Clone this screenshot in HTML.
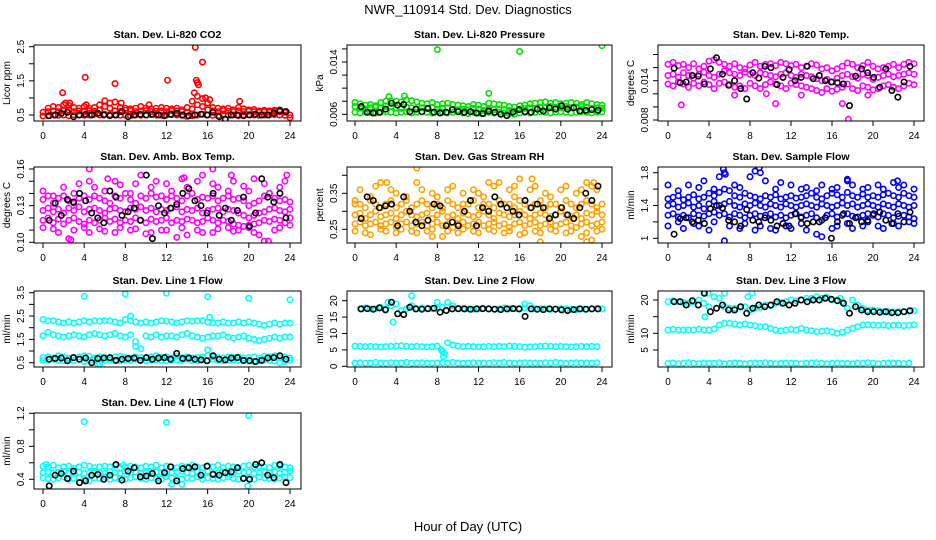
<!DOCTYPE html>
<html><head><meta charset="utf-8"><style>
html,body{margin:0;padding:0;background:#fff;}
svg{display:block;font-family:"Liberation Sans",Arial,sans-serif;}
</style></head><body>
<svg id="chart" width="936" height="540" viewBox="0 0 936 540" xmlns="http://www.w3.org/2000/svg">
<text x="468" y="14" font-size="13" text-anchor="middle">NWR_110914  Std. Dev. Diagnostics</text>
<text x="468" y="531" font-size="13" text-anchor="middle">Hour of Day (UTC)</text>
</svg>
<script>
// ---------- DATA ----------
const xTicks = [0,4,8,12,16,20,24];
const co2Lo = [0.47,0.48,0.5,0.49,0.5,0.48,0.51,0.5,0.49,0.5,0.52,0.5,0.52,0.51,0.5,0.49,0.5,0.48,0.5,0.49,0.5,0.51,0.5,0.49,0.5,0.51,0.5,0.49,0.46,0.48,0.5,0.52,0.5,0.49,0.48,0.5,0.49,0.5,0.48,0.5,0.51,0.5,0.49,0.5,0.5,0.51,0.5,0.49,0.42];
const co2Mid = [0.58,0.6,0.62,0.6,0.63,0.65,0.6,0.62,0.6,0.63,0.61,0.64,0.75,0.7,0.62,0.6,0.64,0.63,0.6,0.62,0.63,0.6,0.61,0.62,0.6,0.63,0.62,0.6,0.58,0.68,0.8,0.75,0.65,0.62,0.6,0.63,0.61,0.6,0.62,0.6,0.61,0.6,0.58,0.6,0.58,0.6,0.6,0.58,0.5];
const co2Hi = [null,0.7,0.75,0.72,0.8,0.78,0.72,0.7,0.75,0.7,0.72,0.8,0.92,0.85,0.88,0.72,0.7,0.68,0.7,0.75,0.7,0.68,0.7,0.72,0.7,0.68,0.7,0.65,0.72,0.9,1.05,0.98,0.85,0.72,0.7,0.68,0.7,0.65,0.72,0.68,0.65,0.66,0.62,0.64,0.62,0.64,0.65,0.6,null];
const co2OutH = [1.9,2.2,2.6,4.1,7.0,12.1,14.8,15.5,14.9,15.0,15.1,14.7,19.1,10.3,7.6,4.2,16.2,15.8];
const co2OutV = [1.15,0.85,0.85,1.6,1.42,1.52,2.48,2.05,1.52,1.45,1.38,1.15,0.9,0.8,0.85,0.8,0.95,1.0];
const co2Black = [0.48,0.5,0.55,0.58,0.45,0.5,0.52,0.5,0.55,0.5,0.48,0.5,0.6,0.45,0.5,0.52,0.5,0.52,0.5,0.48,0.52,0.55,0.5,0.48,0.5,0.52,0.5,0.58,0.45,0.38,0.5,0.5,0.48,0.5,0.52,0.5,0.5,0.55,0.62,0.6];

const kpaLo = [0.0063,0.0062,0.0064,0.0063,0.0062,0.0063,0.0064,0.0063,0.0062,0.0063,0.0064,0.0062,0.0063,0.0064,0.0063,0.0062,0.0064,0.0063,0.0062,0.0063,0.0064,0.0062,0.0061,0.0063,0.0062,0.0061,0.0063,0.0062,0.0063,0.0062,0.0061,0.006,0.0062,0.0063,0.0062,0.0063,0.0064,0.0063,0.0062,0.0063,0.0064,0.0063,0.0062,0.0063,0.0064,0.0063,0.0062,0.0063,0.0064];
const kpaMid = [0.0072,0.007,0.0068,0.007,0.0071,0.0069,0.0073,0.0072,0.007,0.0069,0.0071,0.007,0.0068,0.007,0.0069,0.0071,0.0068,0.0069,0.007,0.0068,0.0067,0.0068,0.0067,0.0069,0.0068,0.0066,0.0068,0.0067,0.0068,0.0067,0.0066,0.0065,0.0068,0.0069,0.007,0.0069,0.0071,0.007,0.0072,0.0071,0.007,0.0072,0.007,0.0071,0.0072,0.0071,0.0069,0.007,0.0069];
const kpaHi = [0.0078,0.0076,0.0074,0.0075,0.0073,0.0078,0.008,0.0081,0.008,0.0079,0.0082,0.0081,0.0079,0.0077,0.0076,0.0078,0.0075,0.0076,0.0077,0.0075,0.0074,0.0073,0.0072,0.0075,0.0074,0.0072,0.0077,0.0076,0.0075,0.0074,0.0072,0.0071,0.0073,0.0074,0.0076,0.0077,0.0078,0.0079,0.0077,0.0078,0.0076,0.0077,0.0078,0.0077,0.0075,0.0078,0.0076,0.0075,0.0074];
const kpaOutH = [8,16,24,13,3.3,4.8];
const kpaOutV = [0.0159,0.0156,0.0165,0.0092,0.0087,0.0088];
const kpaBlack = [0.0072,0.0063,0.0062,0.0063,0.0068,0.0077,0.0074,0.0075,0.0064,0.0068,0.0064,0.0069,0.0063,0.0062,0.0063,0.0067,0.0064,0.0063,0.0064,0.0062,0.0061,0.0065,0.0063,0.006,0.0058,0.0063,0.0067,0.0064,0.0063,0.0068,0.0065,0.007,0.0068,0.0073,0.0068,0.007,0.0065,0.0066,0.0067,0.0066];

const ltHi = [0.0165,0.0168,0.0163,0.0165,0.016,0.0166,0.0158,0.0162,0.017,0.0172,0.0168,0.0165,0.0162,0.0166,0.016,0.0158,0.0164,0.0168,0.0162,0.0165,0.0166,0.0163,0.0168,0.0166,0.0163,0.0165,0.016,0.0162,0.0166,0.0164,0.0158,0.016,0.0155,0.0158,0.0162,0.0167,0.0165,0.016,0.0163,0.0168,0.0162,0.0158,0.016,0.0162,0.0165,0.016,0.0165,0.0168,0.0166];
const ltMid = [0.0148,0.015,0.0145,0.0152,0.0148,0.0144,0.015,0.0153,0.0148,0.0145,0.015,0.0155,0.0152,0.015,0.0148,0.0153,0.015,0.0148,0.0152,0.015,0.0148,0.0146,0.015,0.0152,0.0148,0.0145,0.015,0.0148,0.0146,0.0143,0.014,0.0142,0.0138,0.0144,0.0148,0.015,0.0146,0.0144,0.015,0.0148,0.0142,0.0145,0.0148,0.015,0.0146,0.0148,0.015,0.0152,0.015];
const ltLo = [0.0135,0.0132,0.0138,0.0135,0.013,0.0136,0.0132,0.0138,0.0134,0.0128,0.0136,0.0138,0.0134,0.013,0.0132,0.0128,0.0136,0.0132,0.0128,0.0134,0.0138,0.0135,0.0132,0.0128,0.0136,0.0134,0.0132,0.013,0.0128,0.0125,0.0122,0.0128,0.0124,0.0127,0.013,0.0135,0.0128,0.0125,0.0132,0.013,0.0126,0.0128,0.0132,0.0134,0.013,0.0128,0.0132,0.0136,0.0134];
const ltOutH = [1.3,10.5,17.6,17,9.6,6.5,13,19.5];
const ltOutV = [0.0103,0.0105,0.0081,0.0105,0.012,0.0118,0.0118,0.0118];
const ltBlack = [0.0159,0.0137,0.0138,0.0148,0.0147,0.0135,0.0158,0.0175,0.015,0.0133,0.014,0.0128,0.0112,0.0152,0.0144,0.0162,0.016,0.0134,0.0145,0.0157,0.014,0.0145,0.0162,0.0143,0.0148,0.014,0.0138,0.0137,0.0135,0.0102,0.0147,0.0158,0.0152,0.0145,0.013,0.0158,0.0125,0.0115,0.0138,0.0162];

const ambHi2 = [0.142,null,0.138,null,0.145,null,0.14,0.148,null,0.15,0.145,null,0.142,null,0.15,0.147,null,0.14,0.148,0.155,null,0.145,0.15,null,0.148,0.142,null,0.152,0.145,null,0.15,0.155,null,0.148,0.145,null,0.142,0.15,null,0.146,0.142,0.152,null,0.148,0.14,null,0.145,0.15,null];
const ambHi = [0.135,0.138,0.132,0.136,0.138,0.134,0.132,0.136,0.138,0.135,0.138,0.136,0.134,0.132,0.138,0.136,0.14,0.135,0.132,0.138,0.136,0.14,0.137,0.138,0.135,0.138,0.136,0.134,0.138,0.14,0.135,0.137,0.136,0.138,0.134,0.136,0.138,0.135,0.136,0.134,0.13,0.132,0.134,0.138,0.14,0.136,0.134,0.135,0.133];
const ambMid = [0.126,0.128,0.125,0.127,0.124,0.128,0.126,0.129,0.125,0.127,0.128,0.126,0.124,0.127,0.128,0.126,0.125,0.128,0.127,0.129,0.126,0.128,0.125,0.127,0.126,0.128,0.129,0.125,0.127,0.126,0.128,0.124,0.126,0.127,0.128,0.125,0.127,0.126,0.124,0.122,0.12,0.122,0.124,0.125,0.127,0.128,0.126,0.125,0.127];
const ambLo = [0.118,0.12,0.116,0.119,0.115,0.118,0.12,0.117,0.115,0.118,0.116,0.118,0.12,0.117,0.119,0.116,0.118,0.117,0.12,0.118,0.116,0.119,0.117,0.118,0.12,0.116,0.118,0.117,0.119,0.118,0.116,0.117,0.12,0.118,0.116,0.118,0.117,0.115,0.114,0.113,0.112,0.115,0.116,0.118,0.117,0.119,0.118,0.116,0.12];
const ambLo2 = [0.112,null,0.111,0.108,null,0.103,0.11,null,0.112,0.108,null,0.111,0.109,null,0.108,0.112,null,0.11,0.111,null,0.107,0.108,null,0.11,0.11,null,0.104,0.112,0.106,null,0.11,0.108,null,0.108,0.111,null,0.112,0.109,0.11,null,0.114,0.108,0.106,0.101,null,0.11,0.112,null,0.114];
const ambOutH = [4.5,16.5,13.7,23.7,2.7,21.9,6.3,18.3];
const ambOutV = [0.16,0.16,0.153,0.155,0.102,0.101,0.152,0.155];
const ambBlack = [0.118,0.132,0.122,0.135,0.133,0.14,0.134,0.124,0.12,0.116,0.142,0.137,0.122,0.125,0.128,0.118,0.155,0.103,0.13,0.124,0.128,0.131,0.14,0.144,0.134,0.13,0.124,0.14,0.122,0.128,0.118,0.126,0.137,0.113,0.124,0.152,0.137,0.133,0.14,0.12];

const rhHi2 = [0.33,0.36,null,0.34,0.37,0.38,null,0.36,0.35,null,0.34,null,0.38,0.36,null,0.35,0.34,null,0.36,0.37,null,0.35,null,0.36,0.35,0.34,null,0.37,0.38,null,0.36,0.34,0.39,null,0.36,0.37,null,0.35,0.34,null,0.36,0.37,null,0.35,0.36,0.38,0.37,0.36,null];
const rhHi = [0.32,0.32,0.31,0.33,0.32,0.31,0.32,0.33,0.31,0.32,0.33,0.31,0.32,0.33,0.32,0.31,0.32,0.31,0.33,0.32,0.31,0.32,0.32,0.33,0.31,0.32,0.32,0.31,0.33,0.32,0.32,0.31,0.33,0.32,0.31,0.32,0.33,0.31,0.32,0.32,0.31,0.33,0.32,0.31,0.32,0.33,0.32,0.31,0.32];
const rhMid = [0.29,0.295,0.28,0.29,0.3,0.285,0.29,0.295,0.28,0.29,0.3,0.29,0.285,0.29,0.295,0.28,0.29,0.3,0.285,0.29,0.28,0.295,0.29,0.285,0.29,0.3,0.29,0.28,0.295,0.29,0.285,0.29,0.3,0.29,0.28,0.29,0.295,0.29,0.285,0.29,0.3,0.29,0.285,0.29,0.28,0.295,0.29,0.3,0.29];
const rhLo = [0.265,0.27,0.26,0.265,0.27,0.26,0.265,0.27,0.255,0.265,0.27,0.26,0.265,0.27,0.26,0.265,0.27,0.26,0.265,0.255,0.265,0.27,0.26,0.265,0.27,0.26,0.265,0.27,0.26,0.265,0.255,0.265,0.27,0.26,0.265,0.27,0.26,0.265,0.27,0.26,0.265,0.27,0.26,0.255,0.265,0.27,0.26,0.265,0.27];
const rhLo2 = [0.245,null,0.24,0.235,null,0.25,0.245,null,0.24,0.25,null,0.245,0.24,null,0.245,0.25,null,0.23,0.245,null,0.24,0.25,null,0.245,0.24,null,0.25,0.245,null,0.24,0.245,null,0.235,0.24,null,0.245,0.24,null,0.25,0.245,null,0.24,0.245,null,0.23,0.24,null,0.245,0.25];
const rhOutH = [6,17.2,13,22.5,23,18,7.5,3.1,15.5,23.2];
const rhOutV = [0.42,0.39,0.38,0.215,0.22,0.215,0.23,0.38,0.37,0.38];
const rhBlack = [0.28,0.34,0.33,0.31,0.315,0.32,0.26,0.34,0.3,0.27,0.26,0.275,0.32,0.315,0.26,0.27,0.26,0.3,0.33,0.26,0.31,0.3,0.34,0.32,0.31,0.3,0.29,0.33,0.31,0.32,0.31,0.28,0.29,0.31,0.29,0.28,0.31,0.35,0.33,0.37];

const sfHi2 = [1.65,null,1.58,null,1.65,null,1.62,1.7,null,1.6,1.75,1.8,null,1.65,1.62,null,1.75,1.82,null,1.7,null,1.6,1.68,null,1.65,null,1.6,1.62,null,1.58,1.65,null,1.6,1.62,null,1.7,1.65,null,1.6,1.62,null,1.65,1.6,null,1.68,1.62,1.65,null,1.6];
const sfHi = [1.48,1.5,1.52,1.47,1.5,1.53,1.48,1.5,1.55,1.52,1.56,1.6,1.58,1.52,1.5,1.55,1.52,1.5,1.48,1.52,1.5,1.53,1.48,1.5,1.52,1.49,1.5,1.52,1.55,1.5,1.48,1.52,1.55,1.53,1.5,1.56,1.52,1.5,1.54,1.5,1.52,1.5,1.53,1.55,1.52,1.5,1.55,1.52,1.5];
const sfMid = [1.4,1.42,1.38,1.4,1.43,1.38,1.4,1.36,1.42,1.45,1.4,1.42,1.45,1.4,1.38,1.42,1.4,1.43,1.4,1.38,1.42,1.4,1.38,1.42,1.4,1.38,1.4,1.42,1.4,1.38,1.42,1.4,1.38,1.4,1.43,1.4,1.42,1.38,1.4,1.42,1.4,1.38,1.42,1.4,1.38,1.42,1.4,1.38,1.4];
const sfLo = [1.28,1.3,1.26,1.28,1.25,1.3,1.28,1.27,1.3,1.32,1.28,1.3,1.26,1.3,1.28,1.25,1.28,1.3,1.27,1.28,1.3,1.26,1.28,1.25,1.28,1.3,1.26,1.28,1.3,1.25,1.22,1.28,1.3,1.26,1.28,1.3,1.27,1.26,1.28,1.3,1.28,1.26,1.3,1.28,1.25,1.27,1.28,1.26,1.24];
const sfLo2 = [1.15,null,1.2,1.12,null,1.18,1.15,null,1.1,1.2,null,0.97,1.15,null,1.12,1.18,null,1.1,1.15,null,1.12,1.1,null,1.15,1.12,null,1.18,1.1,null,1.05,1.02,null,1.12,1.15,null,1.18,1.12,null,1.15,1.2,null,1.15,1.12,null,1.18,1.15,null,1.2,1.18];
const sfOutH = [5.4,5.6,8.9,9.0,17.5,22.4];
const sfOutV = [1.84,1.78,1.86,1.8,1.72,1.7];
const sfBlack = [1.05,1.24,1.25,1.2,1.22,1.18,1.36,1.4,1.37,1.22,1.2,1.15,1.35,1.22,1.2,1.25,1.22,1.15,1.18,1.15,1.3,1.25,1.18,1.2,1.2,1.25,1.0,1.2,1.3,1.18,1.25,1.2,1.22,1.3,1.32,1.22,1.18,1.3,1.2,1.32];

const l1B1 = [2.35,2.3,2.3,2.25,2.2,2.25,2.2,2.25,2.3,2.25,2.3,2.28,2.3,2.3,2.25,2.2,2.35,2.3,2.25,2.2,2.25,2.2,2.25,2.3,2.28,2.25,2.2,2.25,2.3,2.28,2.3,2.3,2.25,2.2,2.2,2.25,2.2,2.2,2.25,2.2,2.25,2.2,2.15,2.1,2.15,2.2,2.15,2.2,2.2];
const l1B2 = [1.65,1.8,1.7,1.65,1.6,1.65,1.7,1.65,1.6,1.7,1.75,1.7,1.65,1.7,1.75,1.65,1.6,1.7,1.4,1.1,1.65,1.6,1.7,1.6,1.65,1.65,1.6,1.7,1.75,1.65,1.6,1.55,1.6,1.65,1.65,1.7,1.6,1.55,1.6,1.65,1.55,1.5,1.45,1.5,1.55,1.6,1.55,1.6,1.6];
const l1B3 = [0.72,0.75,0.7,0.8,0.75,0.7,0.72,0.75,0.8,0.78,0.7,0.75,0.72,0.7,0.75,0.78,0.72,0.7,0.75,0.72,0.7,0.75,0.8,0.72,0.75,0.7,0.78,0.72,0.75,0.7,0.72,0.75,0.8,0.75,0.72,0.7,0.75,0.72,0.75,0.7,0.72,0.75,0.7,0.78,0.75,0.8,0.72,0.75,0.7];
const l1B4 = [0.6,0.62,0.65,0.6,0.58,0.62,0.6,0.65,0.55,0.6,0.62,0.45,0.6,0.62,0.6,0.58,0.62,0.6,0.65,0.6,0.58,0.6,0.62,0.6,0.58,0.6,0.62,0.6,0.65,0.6,0.58,0.62,0.6,0.65,0.6,0.58,0.6,0.62,0.6,0.58,0.6,0.55,0.6,0.62,0.6,0.58,0.5,0.55,0.6];
const l1OutH = [4,8,12,16,20,24,16.2,16,8.5,9,5.3];
const l1OutV = [3.35,3.45,3.48,3.33,3.27,3.2,2.45,1.05,2.5,1.2,0.45];
const l1Black = [0.65,0.68,0.7,0.58,0.72,0.65,0.7,0.5,0.68,0.7,0.72,0.6,0.65,0.68,0.7,0.6,0.72,0.65,0.7,0.72,0.65,0.9,0.68,0.7,0.65,0.62,0.58,0.8,0.65,0.62,0.7,0.72,0.6,0.58,0.55,0.6,0.7,0.72,0.8,0.65];

const l2B1 = [null,17.5,17.8,17.5,17.5,18,17.5,18.5,19,17,17.5,18.5,17.5,17.8,17.5,17.6,17.5,18,19.5,18.5,17.5,17.6,17.5,17.4,17.5,17.6,17.5,17.4,17.5,17.8,17.5,17.6,17.5,17.8,18.5,17.5,17.6,17.5,17.4,17.5,17.6,17.5,17.4,17.3,17.5,17.4,17.5,17.6,17.5];
const l2B2 = [6.2,6.1,6.0,6.1,6.0,5.9,6.0,6.1,6.2,6.3,6.1,6.0,6.1,6.0,5.9,6.0,6.2,4.5,7.2,6.5,6.2,6.0,6.1,6.0,5.9,6.0,6.1,6.0,6.1,6.0,6.2,6.1,6.0,5.8,5.9,6.0,6.1,6.2,6.1,6.0,6.1,6.0,5.9,6.0,6.1,6.0,6.1,6.0,null];
const l2B3 = [1.0,1.1,0.9,1.0,1.2,1.0,0.9,1.1,1.0,1.0,1.2,0.9,1.0,1.1,1.0,0.9,1.0,1.1,1.0,1.2,1.0,0.9,1.0,1.1,1.0,1.0,0.9,1.1,1.0,1.2,1.0,0.9,1.0,1.1,1.0,1.0,0.9,1.1,1.0,1.2,1.0,0.9,1.0,1.1,1.0,1.0,0.9,1.1,null];
const l2OutH = [5.5,3.7,8,3.2,8.6,8.7,8.4,16.5];
const l2OutV = [21.5,13.5,19.5,19.5,3.0,4.0,5.0,19];
const l2Black = [17.5,17.6,17.4,17.8,17.2,19.5,16,15.8,18,17.5,17.4,17.6,17.7,16.5,17,17.5,17.6,17.5,17.4,17.5,17.6,17.5,17.4,17.3,17.5,17.6,17.5,15.2,17.5,17.4,17.3,17.5,17.4,17.2,17.0,17.3,17.5,17.4,17.5,17.5];

const l3Top = [19.5,19.8,19.5,19.2,19,19.5,20,19,18,21,20.5,18,17.5,17.5,17.8,18,17,17.5,17.8,18.5,18.3,19,19.2,19.5,20,19.8,20,20.5,20.5,21,20.5,20.8,20,20,19.5,17.5,20,18.5,17.5,17,17,16.8,16.5,16.5,16.5,16.5,16.5,16.6,16.8];
const l3Mid = [11,11.2,11,11,11.1,11,11.2,11,11,11.3,12.5,13,13,12.8,12.5,12.8,12.5,12.3,12,12,11.5,11,10.8,11,11.2,11,11.5,11,10.8,10.5,10.6,10.8,10.5,10,10.3,11,11.5,12,12.5,12.6,12.5,12.4,12.5,12.3,12.4,12.5,12.3,12.4,12.6];
const l3Bot = [1.0,1.1,0.9,1.0,1.2,1.0,0.9,1.1,1.0,1.0,1.2,0.9,1.0,1.1,1.0,0.9,1.0,1.1,1.0,1.2,1.0,0.9,1.0,1.1,1.0,1.0,0.9,1.1,1.0,1.2,1.0,0.9,1.0,1.1,1.0,1.0,0.9,1.1,1.0,1.2,1.0,0.9,1.0,1.1,1.0,1.0,0.9,1.1,null];
const l3OutH = [3.5,3.9,5.5,7.8,8.2,3.6,16.8];
const l3OutV = [22,22,22,21,22,15,20.5];
const l3Black = [19.5,19.5,18.5,19.8,18.5,22,16.5,17.5,18.5,17,17,18,16,17.5,18.5,18,18.5,19.5,19,18.5,19,20,19.5,20,20,20.5,20.2,19.8,19,16,18,17,16.5,16.5,16.3,16.5,16.2,16.2,16.5,16.8];

const l4Hi = [0.56,0.55,0.57,0.54,0.55,0.56,0.53,0.55,0.57,0.56,0.54,0.55,0.56,0.55,0.57,0.54,0.55,0.56,0.55,0.54,0.56,0.55,0.57,0.54,0.56,0.55,0.54,0.56,0.55,0.57,0.55,0.54,0.56,0.55,0.57,0.54,0.56,0.55,0.54,0.56,0.57,0.55,0.56,0.55,0.54,0.57,0.56,0.55,0.54];
const l4Mid = [0.48,0.49,0.47,0.48,0.5,0.47,0.48,0.49,0.47,0.48,0.5,0.48,0.47,0.49,0.48,0.47,0.5,0.48,0.49,0.47,0.48,0.5,0.49,0.48,0.47,0.48,0.49,0.5,0.48,0.47,0.49,0.48,0.5,0.47,0.48,0.49,0.47,0.48,0.5,0.48,0.49,0.47,0.48,0.5,0.48,0.49,0.47,0.48,0.5];
const l4Lo = [0.42,0.41,0.4,0.42,0.43,0.4,0.41,0.42,0.4,0.38,0.42,0.41,0.43,0.4,0.42,0.41,0.4,0.42,0.43,0.41,0.4,0.42,0.41,0.4,0.43,0.42,0.41,0.4,0.42,0.41,0.43,0.4,0.42,0.41,0.4,0.42,0.43,0.41,0.4,0.42,0.41,0.4,0.43,0.42,0.41,0.4,0.42,0.43,0.42];
const l4OutH = [4,12,20,19.9,12.5,0.3,13.5,7.8];
const l4OutV = [1.1,1.09,1.17,0.32,0.34,0.58,0.34,0.57];
const l4Black = [0.32,0.45,0.47,0.41,0.5,0.36,0.38,0.45,0.46,0.4,0.45,0.58,0.39,0.5,0.54,0.43,0.44,0.47,0.38,0.48,0.55,0.38,0.53,0.54,0.55,0.45,0.56,0.46,0.45,0.48,0.49,0.54,0.41,0.4,0.58,0.6,0.45,0.42,0.58,0.36];

// ---------- LAYOUT ----------
const bandHours = []; for (let i=0;i<49;i++) bandHours.push(i*0.5);
const blackHours = []; for (let i=0;i<40;i++) blackHours.push(0.6+i*0.59);
const cols = [{l:34,r:301,t0:43,t24:290},{l:347,r:612,t0:355,t24:602},{l:658,r:924,t0:668,t24:914}];
const rows = [{t:45,b:121},{t:167,b:243},{t:291,b:367},{t:413,b:489}];
const panels = [
 {id:'co2',title:'Stan. Dev. Li-820 CO2',yt:'Licor ppm',c:0,r:0,col:'#ff0000',ref:[0.5,115,2.5,46.7],ticks:[0.5,1,1.5,2,2.5],labels:[0.5,1.5,2.5],bands:[co2Lo,co2Mid,co2Hi],oh:co2OutH,ov:co2OutV,blk:co2Black},
 {id:'pressure',title:'Stan. Dev. Li-820 Pressure',yt:'kPa',c:1,r:0,col:'#00e000',ref:[0.006,114.3,0.014,62],ticks:[0.006,0.008,0.01,0.012,0.014,0.016],labels:[0.006,0.014],bands:[kpaLo,kpaMid,kpaHi],oh:kpaOutH,ov:kpaOutV,blk:kpaBlack},
 {id:'li-temp',title:'Stan. Dev. Li-820 Temp.',yt:'degrees C',c:2,r:0,col:'#ff00ff',ref:[0.008,120,0.014,80.7],ticks:[0.008,0.01,0.012,0.014,0.016,0.018],labels:[0.008,0.014],bands:[ltLo,ltMid,ltHi],oh:ltOutH,ov:ltOutV,blk:ltBlack},
 {id:'amb-temp',title:'Stan. Dev. Amb. Box Temp.',yt:'degrees C',c:0,r:1,col:'#ff00ff',ref:[0.10,242.3,0.16,169],ticks:[0.10,0.11,0.12,0.13,0.14,0.15,0.16],labels:[0.10,0.13,0.16],bands:[ambLo2,ambLo,ambMid,ambHi,ambHi2],oh:ambOutH,ov:ambOutV,blk:ambBlack},
 {id:'rh',title:'Stan. Dev. Gas Stream RH',yt:'percent',c:1,r:1,col:'#ffa000',ref:[0.25,229.3,0.35,193.3],ticks:[0.25,0.30,0.35,0.40],labels:[0.25,0.35],bands:[rhLo2,rhLo,rhMid,rhHi,rhHi2],oh:rhOutH,ov:rhOutV,blk:rhBlack},
 {id:'sample-flow',title:'Stan. Dev. Sample Flow',yt:'ml/min',c:2,r:1,col:'#0000ff',ref:[1.0,238.3,1.8,172.7],ticks:[1.0,1.2,1.4,1.6,1.8],labels:[1.0,1.4,1.8],bands:[sfLo2,sfLo,sfMid,sfHi,sfHi2],oh:sfOutH,ov:sfOutV,blk:sfBlack},
 {id:'line1',title:'Stan. Dev. Line 1 Flow',yt:'ml/min',c:0,r:2,col:'#00ffff',ref:[0.5,362.7,3.5,292.7],ticks:[0.5,1,1.5,2,2.5,3,3.5],labels:[0.5,1.5,2.5,3.5],bands:[l1B1,l1B2,l1B3,l1B4],oh:l1OutH,ov:l1OutV,blk:l1Black},
 {id:'line2',title:'Stan. Dev. Line 2 Flow',yt:'ml/min',c:1,r:2,col:'#00ffff',ref:[0,366.3,20,300.7],ticks:[0,5,10,15,20],labels:[0,5,10,15,20],bands:[l2B1,l2B2,l2B3],oh:l2OutH,ov:l2OutV,blk:l2Black},
 {id:'line3',title:'Stan. Dev. Line 3 Flow',yt:'ml/min',c:2,r:2,col:'#00ffff',ref:[5,350,20,300],ticks:[5,10,15,20],labels:[5,10,20],bands:[l3Top,l3Mid,l3Bot],oh:l3OutH,ov:l3OutV,blk:l3Black},
 {id:'line4',title:'Stan. Dev. Line 4 (LT) Flow',yt:'ml/min',c:0,r:3,col:'#00ffff',ref:[0.4,479.3,1.2,413.3],ticks:[0.4,0.6,0.8,1.0,1.2],labels:[0.4,0.8,1.2],bands:[l4Lo,l4Mid,l4Hi],oh:l4OutH,ov:l4OutV,blk:l4Black}
];

const NS='http://www.w3.org/2000/svg';
const svg=document.getElementById('chart');
function mk(tag,attrs,parent){const e=document.createElementNS(NS,tag);for(const k in attrs)e.setAttribute(k,attrs[k]);parent.appendChild(e);return e;}
function fmt(v){return String(+v.toFixed(4)).replace(/^0\.1$/,'0.10');}

panels.forEach(p=>{
  const C=cols[p.c],R=rows[p.r];
  const xs=h=>C.t0+(C.t24-C.t0)*h/24;
  const k=(p.ref[3]-p.ref[1])/(p.ref[2]-p.ref[0]);
  const ys=v=>p.ref[1]+(v-p.ref[0])*k;
  const g=mk('g',{},svg);
  
  
  const t=mk('text',{x:(C.l+C.r)/2,y:R.t-7,'font-size':10.5,'font-weight':'bold','text-anchor':'middle'},g);
  t.textContent=p.title;
  
  
  const cp=mk('clipPath',{id:'cp-'+p.id},g);
  mk('rect',{x:C.l,y:R.t,width:C.r-C.l,height:R.b-R.t},cp);
  const pts=mk('g',{'clip-path':'url(#cp-'+p.id+')',fill:'none'},g);
  
  
  const dot=(h,v,col)=>{if(v===null||v===undefined)return;const c=mk('circle',{cx:xs(h).toFixed(1),cy:ys(v).toFixed(1),r:2.7,stroke:col,'stroke-width':1.6},pts);
    
    };
  p.bands.forEach(b=>b.forEach((v,i)=>dot(bandHours[i],v,p.col)));
  p.oh.forEach((h,i)=>dot(h,p.ov[i],p.col));
  p.blk.forEach((v,i)=>dot(blackHours[i],v,'#000'));
  const box=mk('rect',{x:C.l,y:R.t,width:C.r-C.l,height:R.b-R.t,fill:'none',stroke:'#000','stroke-width':1},g);
  
  
  const xa=mk('g',{},g);
  
  
  xTicks.forEach(h=>{const x=xs(h);mk('line',{x1:x,x2:x,y1:R.b,y2:R.b+5,stroke:'#000'},xa);
    const tl=mk('text',{x:x,y:R.b+18,'font-size':10,'text-anchor':'middle'},xa);tl.textContent=h;
    
    });
  const ya=mk('g',{},g);
  
  
  p.ticks.forEach(v=>{const y=ys(v);mk('line',{x1:C.l-5,x2:C.l,y1:y,y2:y,stroke:'#000'},ya);});
  p.labels.forEach(v=>{const y=ys(v);const tl=mk('text',{x:0,y:0,'font-size':10,'text-anchor':'middle',transform:`translate(${C.l-10},${y}) rotate(-90)`},ya);
    tl.textContent=fmt(v);
    
    });
  const yt=mk('text',{x:0,y:0,'font-size':10,'text-anchor':'middle',transform:`translate(${C.l-24},${(R.t+R.b)/2}) rotate(-90)`},g);
  yt.textContent=p.yt;
  
  
});
</script>
</body></html>
